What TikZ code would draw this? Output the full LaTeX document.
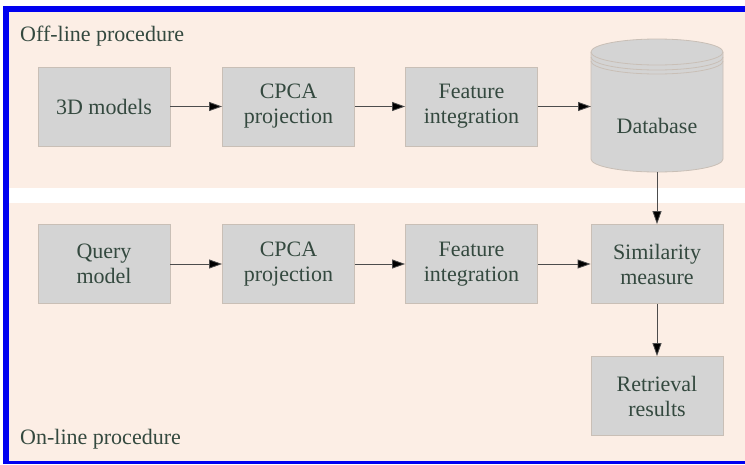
\documentclass[tikz,border=0pt]{standalone}
\usepackage{fontspec}
\setmainfont{Liberation Serif}
\newfontfamily\diagfont{Liberation Serif}
\usetikzlibrary{arrows.meta}
\definecolor{panelfill}{HTML}{FCEEE5}
\definecolor{boxfill}{HTML}{D4D4D4}
\definecolor{boxline}{HTML}{C9BFB6}
\definecolor{txt}{HTML}{34493F}
\definecolor{frameblue}{HTML}{0000F0}
\tikzset{
  stepbox/.style={rectangle, fill=boxfill, draw=boxline, line width=0.8pt,
    minimum width=132pt, minimum height=79pt, inner sep=0pt, align=center,
    text=txt, font=\diagfont\fontsize{22}{25}\selectfont},
  flow/.style={draw=black!70, line width=0.8pt,
    -{Triangle[length=13pt,width=9pt,fill=black]}},
  panel label/.style={anchor=west, text=txt, font=\diagfont\fontsize{22}{25}\selectfont, inner sep=0pt}
}
\begin{document}
\begin{tikzpicture}[x=1pt,y=-1pt]
  \useasboundingbox (0,0) rectangle (745,464);
  % blue frame and background
  \fill[white] (0,0) rectangle (745,464);
  \fill[frameblue] (3,6) rectangle (745,464);
  \fill[white] (9,12) rectangle (745,461);
  % the two procedure panels
  \fill[panelfill] (9,12) rectangle (745,188);
  \fill[panelfill] (9,203) rectangle (745,461);
  \node[panel label] (offlbl) at (20,36) {Off-line procedure};
  \node[panel label] (onlbl) at (20,439) {On-line procedure};

  % off-line row
  \node[stepbox] (models) at (104,106.5) {3D models};
  \node[stepbox] (cpca1) at (288.5,106.5) {CPCA\\projection};
  \node[stepbox] (feat1) at (471.5,106.5) {Feature\\integration};

  % database cylinder (y grows downwards here)
  \fill[boxfill] (591,52) -- (591,159) arc[start angle=180,end angle=0,x radius=66,y radius=13]
    -- (723,52) arc[start angle=0,end angle=-180,x radius=66,y radius=13] -- cycle;
  \draw[boxline, line width=0.8pt] (591,52) -- (591,159)
    arc[start angle=180,end angle=0,x radius=66,y radius=13] -- (723,52);
  \draw[boxline, line width=0.8pt] (657,52) ellipse[x radius=66,y radius=13];
  \draw[boxline, line width=0.8pt] (591,57) arc[start angle=180,end angle=0,x radius=66,y radius=13];
  \draw[boxline, line width=0.8pt] (591,61) arc[start angle=180,end angle=0,x radius=66,y radius=13];
  \coordinate (dbwest) at (591,106.5);
  \coordinate (dbsouth) at (657,172);
  \node[text=txt, font=\diagfont\fontsize{22}{25}\selectfont, inner sep=0pt] (db) at (657,126) {Database};

  % on-line row
  \node[stepbox] (query) at (104,264) {Query\\model};
  \node[stepbox] (cpca2) at (288.5,264) {CPCA\\projection};
  \node[stepbox] (feat2) at (471.5,264) {Feature\\integration};
  \node[stepbox] (sim) at (657,264) {Similarity\\measure};
  \node[stepbox] (res) at (657,396) {Retrieval\\results};

  % connectors
  \draw[flow] (models) -- (cpca1);
  \draw[flow] (cpca1) -- (feat1);
  \draw[flow] (feat1.east) -- (dbwest);
  \draw[flow] (dbsouth) -- (sim);
  \draw[flow] (query) -- (cpca2);
  \draw[flow] (cpca2) -- (feat2);
  \draw[flow] (feat2) -- (sim);
  \draw[flow] (sim) -- (res);
\end{tikzpicture}
\end{document}
